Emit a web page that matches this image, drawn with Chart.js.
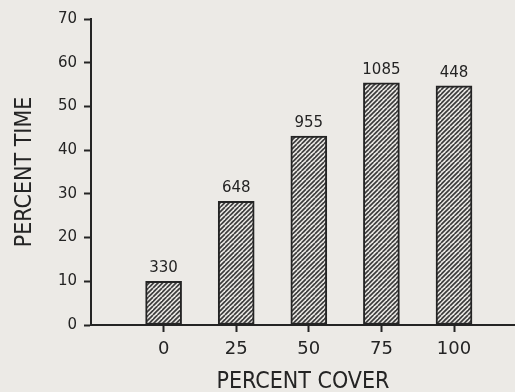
<!DOCTYPE html>
<html>
<head>
<meta charset="utf-8">
<script src="https://cdn.jsdelivr.net/npm/chart.js@4/dist/chart.umd.min.js"></script>
<style>
  html, body { margin: 0; padding: 0; background: #eceae6; }
  #wrap { width: 515px; height: 392px; }
</style>
</head>
<body>
<div id="wrap"><canvas id="chart" width="515" height="392"></canvas></div>
<script>
// Percent of time spent at each level of percent cover, with observation counts
const coverCategories = [0, 25, 50, 75, 100];
const percentTime = [10, 28.3, 43.2, 55.4, 54.7];
const observationCounts = [330, 648, 955, 1085, 448];
const yTickValues = [0, 10, 20, 30, 40, 50, 60, 70];

const INK = '#242424';
const PAPER = '#eceae6';

// Diagonal hatch fill for the bars
function makeHatch() {
  const size = 9;
  const c = document.createElement('canvas');
  c.width = size; c.height = size;
  const g = c.getContext('2d');
  g.fillStyle = PAPER;
  g.fillRect(0, 0, size, size);
  g.strokeStyle = '#3c3c3c';
  g.lineWidth = 1.7;
  for (let k = 0; k <= 2 * size; k += 4.5) {
    g.beginPath();
    g.moveTo(k, 0);
    g.lineTo(k - size, size);
    g.stroke();
  }
  return g.createPattern(c, 'repeat');
}

const ctx = document.getElementById('chart').getContext('2d');
const hatch = makeHatch();

// Writes the observation count above each bar
const countLabels = {
  id: 'countLabels',
  afterDatasetsDraw(chart) {
    const c = chart.ctx;
    const meta = chart.getDatasetMeta(0);
    c.save();
    c.font = '15px "DejaVu Sans", sans-serif';
    c.fillStyle = INK;
    c.textAlign = 'center';
    c.textBaseline = 'alphabetic';
    meta.data.forEach((bar, i) => {
      c.fillText(String(observationCounts[i]), bar.x, bar.y - 9);
    });
    c.restore();
  }
};

new Chart(ctx, {
  type: 'bar',
  data: {
    datasets: [{
      data: coverCategories.map((x, i) => ({ x: x, y: percentTime[i] })),
      backgroundColor: hatch,
      borderColor: INK,
      borderWidth: 2,
      borderSkipped: false,
      barThickness: 36
    }]
  },
  options: {
    responsive: false,
    animation: false,
    events: [],
    layout: { padding: { top: 19, right: 0, bottom: 0, left: 0 } },
    plugins: { legend: { display: false }, tooltip: { enabled: false } },
    scales: {
      x: {
        type: 'linear',
        min: -25,
        max: 121,
        offset: false,
        afterBuildTicks(scale) {
          scale.ticks = coverCategories.map(v => ({ value: v }));
        },
        afterFit(scale) { scale.height = 67; },
        grid: {
          offset: false,
          drawOnChartArea: false,
          drawTicks: true,
          tickLength: 7,
          tickWidth: 2,
          tickColor: INK
        },
        border: { display: true, color: INK, width: 2 },
        ticks: {
          padding: 7,
          color: INK,
          font: { family: '"DejaVu Sans", sans-serif', size: 18 },
          autoSkip: false,
          maxRotation: 0
        },
        title: {
          display: true,
          text: 'PERCENT COVER',
          color: INK,
          font: { family: '"Liberation Sans Narrow", "DejaVu Sans Condensed", sans-serif', size: 23, lineHeight: 0.9 },
          padding: { top: 0, bottom: 0 }
        }
      },
      y: {
        min: 0,
        max: 70,
        afterBuildTicks(scale) {
          scale.ticks = yTickValues.map(v => ({ value: v }));
        },
        afterFit(scale) { scale.width = 91; },
        grid: {
          drawOnChartArea: false,
          drawTicks: true,
          tickLength: 7,
          tickWidth: 2,
          tickColor: INK
        },
        border: { display: true, color: INK, width: 2 },
        ticks: {
          padding: 7,
          color: INK,
          font: { family: '"DejaVu Sans", sans-serif', size: 15 }
        },
        title: {
          display: true,
          text: 'PERCENT TIME',
          color: INK,
          font: { family: '"Liberation Sans Narrow", "DejaVu Sans Condensed", sans-serif', size: 23, lineHeight: 0.9 },
          padding: { top: 15, bottom: 0 }
        }
      }
    }
  },
  plugins: [countLabels]
});
</script>
</body>
</html>
